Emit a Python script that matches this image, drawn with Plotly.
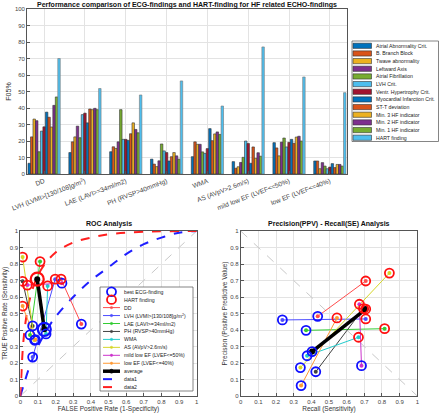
import plotly.graph_objects as go

W, H = 440, 417

# ---------------- Bar chart data ----------------
categories = ["DD", "LVH (LVMI>[130/108]g/m<sup>2</sup>)", "LAE (LAVI>=34ml/m2)", "PH (RVSP>40mmHg)",
              "WMA", "AS (AVpV>2.6m/s)", "mild low EF (LVEF<=50%)", "low EF (LVEF<=40%)"]
series_names = ["Atrial Abnormality Crit.", "B. Branch Block", "Twave abnormality", "Leftward Axis",
                "Atrial Fibrillation", "LVH Crit.", "Ventr. Hypertrophy Crit.", "Myocardial Infarction Crit.",
                "ST-T deviation", "Min. 3 HF indicator", "Min. 2 HF indicator", "Min. 1 HF indicator",
                "HART finding"]
series_colors = ["#0072BD", "#D95319", "#EDB120", "#7E2F8E", "#77AC30", "#4DBEEE", "#A2142F",
                 "#0072BD", "#D95319", "#EDB120", "#7E2F8E", "#77AC30", "#4DBEEE"]
# values[series][category]
atrial_abn = [6.5, 13, 13.5, 9, 10.5, 7.5, 19, 7.9]
branch_block = [22.5, 19.5, 16.5, 6, 19.5, 3.5, 15.8, 7.9]
twave = [33.3, 22.5, 15.5, 4.5, 18, 4.4, 11, 3.2]
leftward = [32.3, 29, 19.5, 8, 18, 7, 19.3, 6.9]
afib = [13.5, 22, 39, 18.2, 13.4, 10.1, 21.8, 4.8]
lvh_crit = [26, 36, 21, 14, 12.5, 20, 16.4, 3.2]
ventr_hyp = [28.6, 36.9, 21, 13, 15.4, 18.5, 19.2, 4.2]
mi_crit = [37.5, 31, 20.4, 7.9, 27.5, 6.5, 21, 6.3]
stt_dev = [34.4, 39.4, 24.4, 10.5, 20.2, 16.4, 18.6, 3.9]
min3 = [28.5, 39, 31, 13, 24.3, 9.5, 22.4, 5.8]
min2 = [41.6, 39.8, 27, 11, 25.5, 12.9, 22.9, 5.8]
min1 = [46.7, 39, 25, 9, 24, 10.8, 20, 4.8]
hart = [70, 51.8, 47.9, 56.4, 41.2, 77, 58.8, 49.3]
bar_values = [atrial_abn, branch_block, twave, leftward, afib, lvh_crit, ventr_hyp, mi_crit,
              stt_dev, min3, min2, min1, hart]
y_ticks = list(range(0, 101, 10))

# ---------------- ROC / PR data ----------------
findings = ["DD", "LVH (LVMI>[130/108]g/m<sup>2</sup>)", "LAE (LAVI>=34ml/m2)", "PH (RVSP>40mmHg)", "WMA",
            "AS (AVpV>2.6m/s)", "mild low EF (LVEF<=50%)", "low EF (LVEF<=40%)"]
finding_colors = ["#FF4D4D", "#4D4DFF", "#33CC33", "#404040", "#22CCCC", "#D6D62A", "#CC33CC", "#FF9933"]
sens_ecg = [0.436, 0.236, 0.370, 0.425, 0.376, 0.338, 0.684, 0.342]
sens_hart = [0.708, 0.708, 0.815, 0.695, 0.667, 0.842, 0.672, 0.545]
fpr_ecg = [0.346, 0.070, 0.055, 0.070, 0.146, 0.081, 0.236, 0.085]
fpr_hart = [0.231, 0.198, 0.112, 0.013, 0.155, 0.013, 0.040, 0.013]
ppv_ecg = [0.483, 0.461, 0.398, 0.147, 0.244, 0.172, 0.184, 0.063]
ppv_hart = [0.697, 0.467, 0.408, 0.530, 0.356, 0.745, 0.556, 0.473]
avg_sens = [0.404, 0.708]
avg_fpr = [0.136, 0.096]
avg_ppv = [0.269, 0.527]
data1_fpr = [0, 0.02, 0.05, 0.1, 0.15, 0.2, 0.3, 0.4, 0.5, 0.6, 0.7, 0.8, 0.9, 1]
data1_tpr = [0, 0.07, 0.17, 0.3, 0.4, 0.48, 0.6, 0.7, 0.78, 0.86, 0.92, 0.96, 0.99, 1]
data2_fpr = [0, 0.005, 0.015, 0.03, 0.05, 0.08, 0.12, 0.2, 0.3, 0.4, 0.5, 0.7, 1]
data2_tpr = [0, 0.1, 0.3, 0.45, 0.57, 0.68, 0.77, 0.87, 0.93, 0.96, 0.98, 0.995, 1]
unit_ticks = [0, 0.1, 0.2, 0.3, 0.4, 0.5, 0.6, 0.7, 0.8, 0.9, 1]
unit_ticktext = ["0", "0.1", "0.2", "0.3", "0.4", "0.5", "0.6", "0.7", "0.8", "0.9", "1"]

FONT = "Liberation Sans, Arial, sans-serif"
AX = "#555555"
GRID = "#E3E3E3"


def px(x):
    return x / W


def py(y):
    return 1 - y / H


fig = go.Figure()

# ---- bars
for name, vals, col in zip(series_names, bar_values, series_colors):
    fig.add_trace(go.Bar(x=categories, y=vals, name=name, marker_color=col,
                         marker_line=dict(color="#333333" if name != "HART finding" else "#777777", width=0.6),
                         showlegend=False, xaxis="x", yaxis="y"))

# ---- ROC
fig.add_trace(go.Scatter(x=[0, 1], y=[0, 1], mode="lines", line=dict(color="#C8C8C8", width=1, dash="dash"),
                         showlegend=False, xaxis="x2", yaxis="y2"))
fig.add_trace(go.Scatter(x=data1_fpr, y=data1_tpr, mode="lines", line=dict(color="#1F1FFF", width=2, dash="dash", shape="spline"),
                         showlegend=False, xaxis="x2", yaxis="y2"))
fig.add_trace(go.Scatter(x=data2_fpr, y=data2_tpr, mode="lines", line=dict(color="#FF1F1F", width=2, dash="dash", shape="spline"),
                         showlegend=False, xaxis="x2", yaxis="y2"))
for i, col in enumerate(finding_colors):
    fig.add_trace(go.Scatter(x=[fpr_ecg[i], fpr_hart[i]], y=[sens_ecg[i], sens_hart[i]], mode="lines+markers",
                             line=dict(color=col, width=1), marker=dict(color=col, size=4),
                             showlegend=False, xaxis="x2", yaxis="y2"))
fig.add_trace(go.Scatter(x=avg_fpr, y=avg_sens, mode="lines+markers", line=dict(color="black", width=3.5),
                         marker=dict(color="black", size=6), showlegend=False, xaxis="x2", yaxis="y2"))
fig.add_trace(go.Scatter(x=fpr_ecg, y=sens_ecg, mode="markers",
                         marker=dict(symbol="circle-open", color="#1010FF", size=9, line=dict(width=1.8)),
                         showlegend=False, xaxis="x2", yaxis="y2"))
fig.add_trace(go.Scatter(x=fpr_hart, y=sens_hart, mode="markers",
                         marker=dict(symbol="circle-open", color="#FF1010", size=9, line=dict(width=1.8)),
                         showlegend=False, xaxis="x2", yaxis="y2"))
fig.add_trace(go.Scatter(x=avg_fpr[:1], y=avg_sens[:1], mode="markers",
                         marker=dict(symbol="circle-open", color="#1010FF", size=13, line=dict(width=2.2)),
                         showlegend=False, xaxis="x2", yaxis="y2"))
fig.add_trace(go.Scatter(x=avg_fpr[1:], y=avg_sens[1:], mode="markers",
                         marker=dict(symbol="circle-open", color="#FF1010", size=13, line=dict(width=2.2)),
                         showlegend=False, xaxis="x2", yaxis="y2"))

# ---- PR
fig.add_trace(go.Scatter(x=[0, 1], y=[1, 0], mode="lines", line=dict(color="#C8C8C8", width=1, dash="dash"),
                         showlegend=False, xaxis="x3", yaxis="y3"))
for i, col in enumerate(finding_colors):
    fig.add_trace(go.Scatter(x=[sens_ecg[i], sens_hart[i]], y=[ppv_ecg[i], ppv_hart[i]], mode="lines+markers",
                             line=dict(color=col, width=1), marker=dict(color=col, size=4),
                             showlegend=False, xaxis="x3", yaxis="y3"))
fig.add_trace(go.Scatter(x=avg_sens, y=avg_ppv, mode="lines+markers", line=dict(color="black", width=3.5),
                         marker=dict(color="black", size=6), showlegend=False, xaxis="x3", yaxis="y3"))
fig.add_trace(go.Scatter(x=sens_ecg + avg_sens[:1], y=ppv_ecg + avg_ppv[:1], mode="markers",
                         marker=dict(symbol="circle-open", color="#1010FF", size=9, line=dict(width=1.8)),
                         showlegend=False, xaxis="x3", yaxis="y3"))
fig.add_trace(go.Scatter(x=sens_hart + avg_sens[1:], y=ppv_hart + avg_ppv[1:], mode="markers",
                         marker=dict(symbol="circle-open", color="#FF1010", size=9, line=dict(width=1.8)),
                         showlegend=False, xaxis="x3", yaxis="y3"))

tickfont = dict(family=FONT, size=6, color="#444444")
common_axis = dict(showline=True, linecolor=AX, linewidth=0.8, mirror=True, ticks="inside", ticklen=3,
                   tickcolor=AX, showgrid=True, gridcolor=GRID, gridwidth=0.8, zeroline=False, tickfont=tickfont,
                   automargin=False)
lab_font = dict(family=FONT, size=6.5, color="#333333")
bar_x_axis = dict(common_axis)
bar_x_axis["tickfont"] = dict(family=FONT, size=6.6, color="#444444")

fig.update_layout(
    width=W, height=H, margin=dict(l=0, r=0, t=0, b=0, autoexpand=False), paper_bgcolor="white", plot_bgcolor="white",
    barmode="group", bargap=0.21, bargroupgap=0, showlegend=False,
    font=dict(family=FONT, size=6, color="#333333"),
    xaxis=dict(domain=[px(27), px(347)], anchor="y", tickangle=-21, range=[-0.42, 7.42], **bar_x_axis),
    yaxis=dict(domain=[py(174), py(9)], anchor="x", range=[0, 100], tickvals=y_ticks,
               title=dict(text="F05%", font=dict(family=FONT, size=7, color="#333333"), standoff=2), **common_axis),
    xaxis2=dict(domain=[px(20.3), px(196.7)], anchor="y2", range=[0, 1], tickvals=unit_ticks, ticktext=unit_ticktext,
                title=dict(text="FALSE Positive Rate (1-Specificity)", font=lab_font, standoff=1),
                **common_axis),
    yaxis2=dict(domain=[py(396), py(231)], anchor="x2", range=[0, 1], tickvals=unit_ticks, ticktext=unit_ticktext,
                title=dict(text="TRUE Positive Rate (Sensitivity)", font=lab_font, standoff=1),
                **common_axis),
    xaxis3=dict(domain=[px(240.7), px(417.3)], anchor="y3", range=[0, 1], tickvals=unit_ticks, ticktext=unit_ticktext,
                title=dict(text="Recall (Sensitivity)", font=lab_font, standoff=1),
                **common_axis),
    yaxis3=dict(domain=[py(396), py(231)], anchor="x3", range=[0, 1], tickvals=unit_ticks, ticktext=unit_ticktext,
                title=dict(text="Precision (Positive Predictive Value)", font=lab_font, standoff=1),
                **common_axis),
)

annotations = []
shapes = []
title_font = dict(family=FONT, size=7, color="#111111")
annotations.append(dict(x=px(187), y=py(4.5), xref="paper", yref="paper", showarrow=False, xanchor="center", yanchor="middle",
                        text="<b>Performance comparison of ECG-findings and HART-finding for HF related ECHO-findings</b>", font=title_font))
annotations.append(dict(x=px(108.5), y=py(224), xref="paper", yref="paper", showarrow=False, xanchor="center", yanchor="middle",
                        text="<b>ROC Analysis</b>", font=title_font))
annotations.append(dict(x=px(329), y=py(224), xref="paper", yref="paper", showarrow=False, xanchor="center", yanchor="middle",
                        text="<b>Precision(PPV) - Recall(SE) Analysis</b>", font=title_font))

# ---- bar legend (drawn manually)
leg_font = dict(family=FONT, size=5.2, color="#222222")
shapes.append(dict(type="rect", xref="paper", yref="paper", x0=px(352), x1=px(438.5), y0=py(141.5), y1=py(41),
                   line=dict(color="#666666", width=0.8), fillcolor="white", layer="above"))
for k, (name, col) in enumerate(zip(series_names, series_colors)):
    yc = 45.8 + k * 7.66
    shapes.append(dict(type="rect", xref="paper", yref="paper", x0=px(353), x1=px(371.5), y0=py(yc + 2.6), y1=py(yc - 2.6),
                       line=dict(color="#333333", width=0.6), fillcolor=col, layer="above"))
    annotations.append(dict(x=px(373.5), y=py(yc), xref="paper", yref="paper", showarrow=False, xanchor="left",
                            yanchor="middle", text=name, font=leg_font))

# ---- ROC legend (drawn manually)
shapes.append(dict(type="rect", xref="paper", yref="paper", x0=px(100), x1=px(193), y0=py(391), y1=py(287),
                   line=dict(color="#666666", width=0.8), fillcolor="white", layer="above"))
roc_items = [("best ECG-finding", "circle", "#1010FF"), ("HART finding", "circle", "#FF1010")]
roc_items += [(f, "line", c) for f, c in zip(findings, finding_colors)]
roc_items += [("average", "thick", "black"), ("data1", "dash", "#1F1FFF"), ("data2", "dash", "#FF1F1F")]
for k, (name, kind, col) in enumerate(roc_items):
    yc = 291.7 + k * 7.95
    if kind == "circle":
        shapes.append(dict(type="circle", xref="paper", yref="paper", x0=px(107), x1=px(116), y0=py(yc + 4.3), y1=py(yc - 4.3),
                           line=dict(color=col, width=1.8), layer="above"))
    elif kind == "line":
        shapes.append(dict(type="line", xref="paper", yref="paper", x0=px(103), x1=px(120), y0=py(yc), y1=py(yc),
                           line=dict(color=col, width=1), layer="above"))
        shapes.append(dict(type="circle", xref="paper", yref="paper", x0=px(110.3), x1=px(112.7), y0=py(yc + 1.2), y1=py(yc - 1.2),
                           line=dict(color=col, width=0.5), fillcolor=col, layer="above"))
    elif kind == "thick":
        shapes.append(dict(type="line", xref="paper", yref="paper", x0=px(103), x1=px(120), y0=py(yc), y1=py(yc),
                           line=dict(color=col, width=3.5), layer="above"))
        shapes.append(dict(type="circle", xref="paper", yref="paper", x0=px(109.5), x1=px(113.5), y0=py(yc + 2), y1=py(yc - 2),
                           line=dict(color=col, width=0.5), fillcolor=col, layer="above"))
    else:
        shapes.append(dict(type="line", xref="paper", yref="paper", x0=px(103), x1=px(120), y0=py(yc), y1=py(yc),
                           line=dict(color=col, width=2, dash="dash"), layer="above"))
    annotations.append(dict(x=px(122), y=py(yc), xref="paper", yref="paper", showarrow=False, xanchor="left",
                            yanchor="middle", text=name, font=leg_font))

fig.update_layout(annotations=annotations, shapes=shapes)
fig.write_html("out.html", config={"displayModeBar": False},
               post_script="document.body.style.margin='0px';document.body.style.padding='0px';")
